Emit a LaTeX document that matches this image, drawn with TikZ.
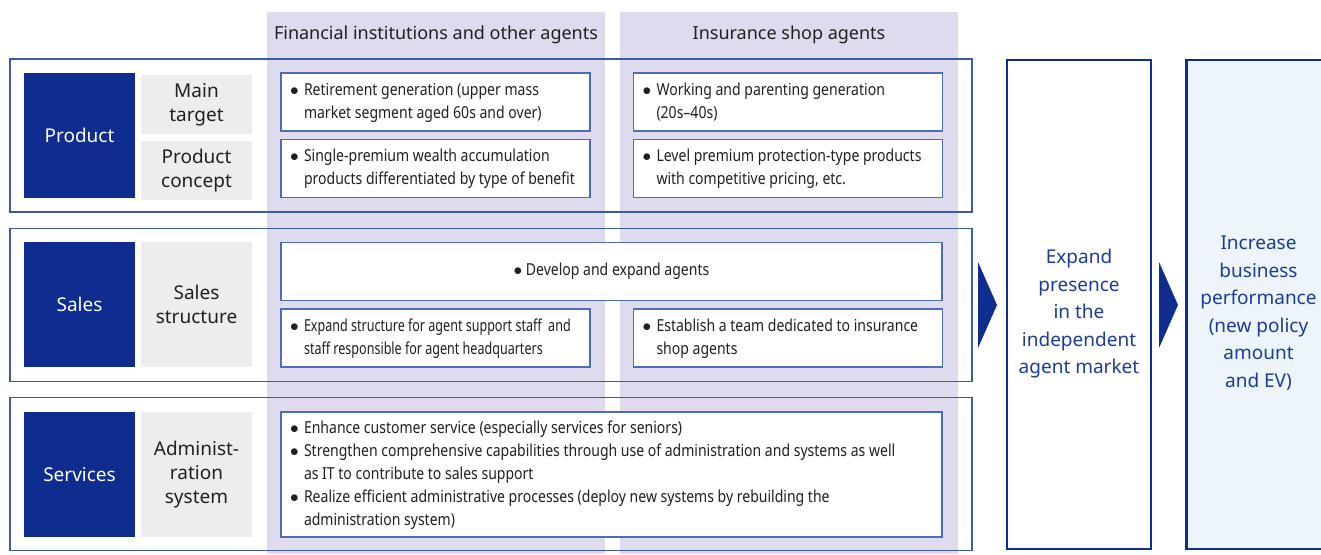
\documentclass[tikz,border=0pt]{standalone}
\usepackage{fontspec}
\setmainfont{Noto Sans}
\newfontfamily\condensed[FakeStretch=0.85,Ligatures=TeX]{Noto Sans}
\newfontfamily\squeezed[FakeStretch=0.76,Ligatures=TeX]{Noto Sans}
\usetikzlibrary{positioning}

\definecolor{navy}{HTML}{0F2D8E}
\definecolor{lavender}{HTML}{DEDBEF}
\definecolor{frameblue}{HTML}{3B5BA5}
\definecolor{boxblue}{HTML}{4D6DB8}
\definecolor{greybox}{HTML}{EDEDED}
\definecolor{paleblue}{HTML}{EEF5FA}
\definecolor{inkgrey}{HTML}{231F20}
\definecolor{goalblue}{HTML}{1B3C99}

% bullet, hanging indent and unbroken lines for the item boxes
\newcommand{\blt}{\makebox[14pt][l]{$\bullet$}}
\newcommand{\ind}{\hspace*{14pt}}
\newcommand{\itemlines}[2][291pt]{\makebox[#1][l]{\begin{tabular}{@{}l@{}}#2\end{tabular}}}

\begin{document}
\begin{tikzpicture}[x=1pt,y=-1pt,every node/.style={inner sep=0pt,outer sep=0pt},band/.style={fill=lavender},rowframe/.style={draw=frameblue,line width=1.2pt,minimum width=962pt,minimum height=153pt},topic/.style={fill=navy,text=white,font=\fontsize{19}{23}\selectfont,minimum width=111pt,minimum height=125pt},aspect/.style={fill=greybox,text=inkgrey,align=center,font=\fontsize{19}{24}\selectfont,minimum width=111pt},item/.style={draw=boxblue,fill=white,line width=1.3pt,text=inkgrey,font=\condensed\fontsize{16.5}{23}\selectfont,inner xsep=9pt,minimum width=309pt,minimum height=58pt},heading/.style={text=inkgrey,font=\fontsize{18}{20}\selectfont},goal/.style={draw=navy,line width=2.2pt,minimum width=144pt,minimum height=489pt},goaltext/.style={text=goalblue,align=center,font=\fontsize{19}{27.5}\selectfont}]
\useasboundingbox (0,0) rectangle (1321,554);

% agent columns
\node[band,minimum width=338pt,minimum height=542pt,anchor=north] (fincol) at (436,12) {};
\node[band,minimum width=338pt,minimum height=542pt,anchor=north] (shopcol) at (789,12) {};
\node[heading] (finhead) at (436,35) {Financial institutions and other agents};
\node[heading] (shophead) at (789,35) {Insurance shop agents};

% row frames
\node[rowframe] (productrow) at (491,135.5) {};
\node[rowframe] (salesrow) at (491,305) {};
\node[rowframe] (servicesrow) at (491,474) {};

% Product
\node[topic] (product) at (79.5,135.5) {Product};
\node[aspect,minimum height=59pt] (target) at (196.5,104.5) {Main\\target};
\node[aspect,minimum height=59pt] (concept) at (196.5,170.5) {Product\\concept};
\node[item] (fintarget) at (435.5,102) {\itemlines{\blt Retirement generation (upper mass\\\ind market segment aged 60s and over)}};
\node[item] (finconcept) at (435.5,168.5) {\itemlines{\blt Single-premium wealth accumulation\\\ind products differentiated by type of benefit}};
\node[item] (shoptarget) at (788,102) {\itemlines{\blt Working and parenting generation\\\ind (20s--40s)}};
\node[item] (shopconcept) at (788,168.5) {\itemlines{\blt Level premium protection-type products\\\ind with competitive pricing, etc.}};

% Sales
\node[topic] (sales) at (79.5,304.5) {Sales};
\node[aspect,minimum height=125pt] (structure) at (196.5,304.5) {Sales\\structure};
\node[item,minimum width=661pt] (develop) at (611.5,271.5) {$\bullet$ Develop and expand agents};
\node[item,font=\squeezed\fontsize{16.5}{23}\selectfont] (finstaff) at (435.5,338) {\itemlines{\blt Expand structure for agent support staff\ \ and\\\ind staff responsible for agent headquarters}};
\node[item] (shopteam) at (788,338) {\itemlines{\blt Establish a team dedicated to insurance\\\ind shop agents}};

% Services
\node[topic] (services) at (79.5,474.5) {Services};
\node[aspect,minimum height=125pt] (admin) at (196.5,474.5) {Administ-\\ration\\system};
\node[item,minimum width=661pt,minimum height=125pt] (service) at (611.5,474.5) {\itemlines[643pt]{\blt Enhance customer service (especially services for seniors)\\\blt Strengthen comprehensive capabilities through use of administration and systems as well\\\ind as IT to contribute to sales support\\\blt Realize efficient administrative processes (deploy new systems by rebuilding the\\\ind administration system)}};

% outcomes
\node[goal,fill=white] (presence) at (1079,304.5) {};
\node[goaltext] (presencetext) at (1079,314) {Expand\\presence\\in the\\independent\\agent market};
\node[goal,fill=paleblue] (performance) at (1258.5,304.5) {};
\node[goaltext] (performancetext) at (1258.5,313) {Increase\\business\\performance\\(new policy\\amount\\and EV)};

\fill[navy] (productrow.east |- salesrow.east) ++(6,-43) -- ++(19,43) -- ++(-19,43) -- cycle;
\fill[navy] (presence.east |- salesrow.east) ++(8,-43) -- ++(19,43) -- ++(-19,43) -- cycle;
\end{tikzpicture}
\end{document}
